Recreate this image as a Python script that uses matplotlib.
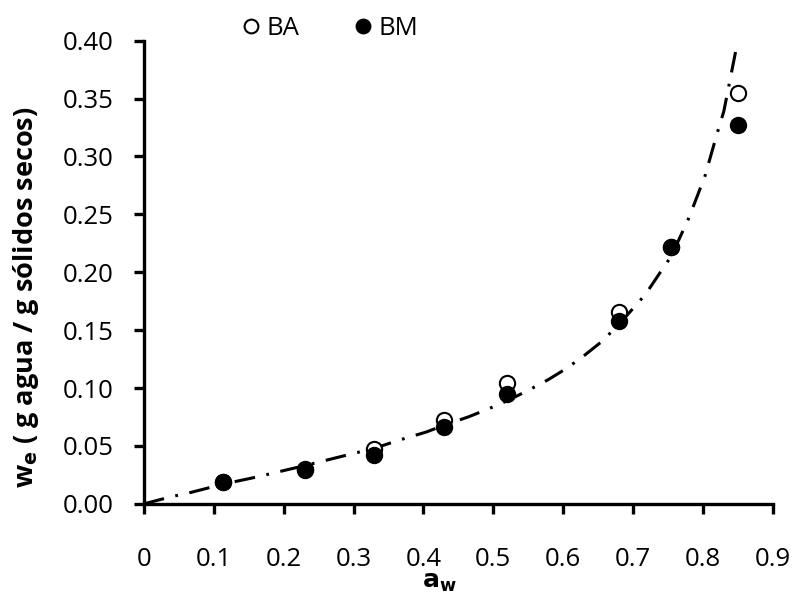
import matplotlib.pyplot as plt

plt.rcParams['font.family'] = ['Open Sans', 'DejaVu Sans']

# humedad de equilibrio experimental
aw = [0.113, 0.23, 0.33, 0.43, 0.52, 0.68, 0.755, 0.85]
we_ba = [0.019, 0.030, 0.047, 0.072, 0.104, 0.166, 0.222, 0.355]
we_bm = [0.019, 0.029, 0.042, 0.066, 0.095, 0.158, 0.222, 0.327]

# curva del modelo ajustado
aw_mod = [0, 0.038, 0.068, 0.113, 0.16, 0.195, 0.23, 0.283, 0.33, 0.365,
          0.404, 0.43, 0.464, 0.493, 0.52, 0.55, 0.578, 0.605, 0.63, 0.655,
          0.68, 0.718, 0.738, 0.755, 0.78, 0.803, 0.82, 0.83, 0.848]
we_mod = [0, 0.006, 0.010, 0.017, 0.023, 0.028, 0.033, 0.041, 0.048, 0.055,
          0.062, 0.068, 0.075, 0.082, 0.089, 0.098, 0.107, 0.117, 0.128, 0.140,
          0.155, 0.181, 0.199, 0.214, 0.247, 0.283, 0.319, 0.339, 0.394]

xticks = [0, 0.1, 0.2, 0.3, 0.4, 0.5, 0.6, 0.7, 0.8, 0.9]
xticklabels = ['0', '0.1', '0.2', '0.3', '0.4', '0.5', '0.6', '0.7', '0.8', '0.9']
yticks = [0, 0.05, 0.10, 0.15, 0.20, 0.25, 0.30, 0.35, 0.40]

fig = plt.figure(figsize=(7.95, 5.97), dpi=100)
ax = fig.add_axes([0.181, 0.156, 0.791, 0.776])

ax.plot(aw_mod, we_mod, color='black', lw=2.2, dashes=(6.8, 3.8, 0.9, 3.8),
        dash_capstyle='butt', zorder=2)
ax.plot(aw, we_ba, 'o', ms=11, mfc='white', mec='black', mew=1.5,
        ls='none', label='BA', zorder=3)
ax.plot(aw, we_bm, 'o', ms=11, mfc='black', mec='black', mew=1.5,
        ls='none', label='BM', zorder=4)

ax.set_xlim(0, 0.9)
ax.set_ylim(0, 0.40)
ax.set_xticks(xticks)
ax.set_xticklabels(xticklabels)
ax.set_yticks(yticks)
ax.set_yticklabels([f'{v:.2f}' for v in yticks])

for side in ['top', 'right']:
    ax.spines[side].set_visible(False)
for side in ['left', 'bottom']:
    ax.spines[side].set_linewidth(2.4)

ax.tick_params(axis='both', direction='out', width=2.4, length=7,
               labelsize=18.5, colors='black')
ax.tick_params(axis='x', pad=24)
ax.tick_params(axis='y', pad=15)

ax.set_xlabel(r'$\mathbf{a_w}$', fontsize=18)
ax.xaxis.set_label_coords(0.47, -0.14)
ax.set_ylabel('w$_\\mathbf{e}$ ( g agua / g sólidos secos)', fontsize=19.5,
              fontweight='bold')
ax.yaxis.set_label_coords(-0.163, 0.445)

ax.legend(loc='center', bbox_to_anchor=(0.413, 0.952), bbox_transform=fig.transFigure,
          ncol=2, frameon=False, fontsize=18.5, markerscale=0.9,
          handletextpad=0.1, columnspacing=2.0, handlelength=1.0)

plt.savefig('out.png', dpi=100)
